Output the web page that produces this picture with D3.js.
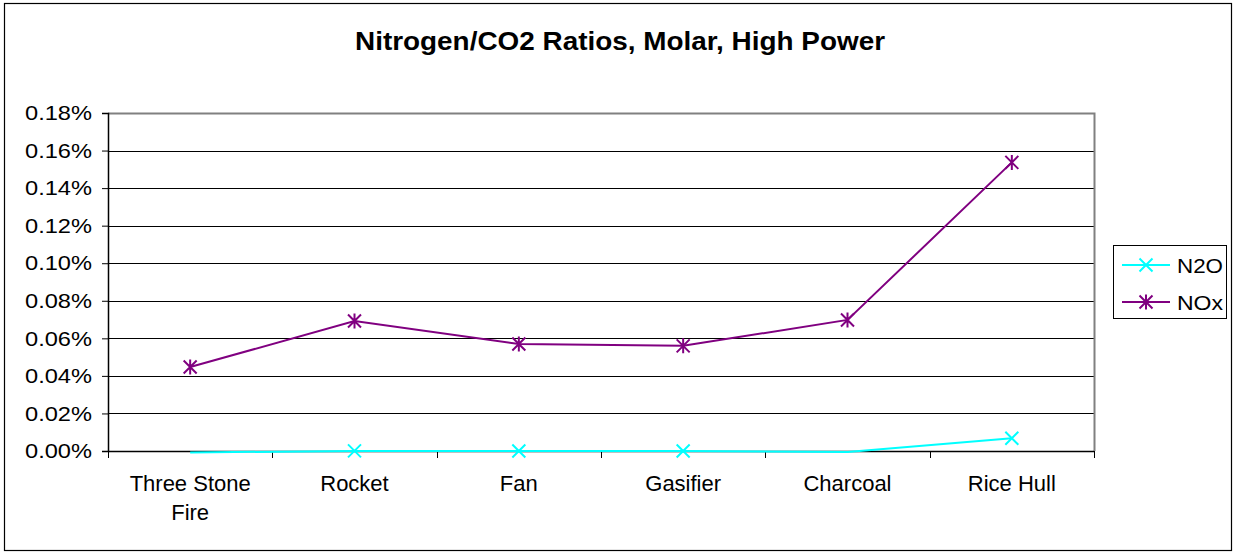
<!DOCTYPE html>
<html>
<head>
<meta charset="utf-8">
<script src="https://cdn.jsdelivr.net/npm/d3@7"></script>
<style>
  html, body { margin: 0; padding: 0; background: #fff; }
  svg { display: block; font-family: Arial, "Liberation Sans", sans-serif; }
</style>
</head>
<body>
<svg id="chart" width="1233" height="553"></svg>
<script>
const titleText = "Nitrogen/CO2 Ratios, Molar, High Power";
const categories = ["Three Stone Fire", "Rocket", "Fan", "Gasifier", "Charcoal", "Rice Hull"];
const seriesNames = ["N2O", "NOx"];
const n2oValues = [-0.000008, 0.0000005, 0.0000003, 0.0000002, -0.000005, 0.000068];
const noxValues = [0.000447, 0.000692, 0.000570, 0.000560, 0.000698, 0.001537];
const yTicks = [0, 0.0002, 0.0004, 0.0006, 0.0008, 0.0010, 0.0012, 0.0014, 0.0016, 0.0018];
const seriesColors = ["#00FFFF", "#800080"];

const svg = d3.select("#chart");
const plot = { left: 108, right: 1094, top: 113, bottom: 451 };

// outer border
svg.append("rect").attr("x", 4.5).attr("y", 3.5).attr("width", 1227).attr("height", 547)
  .attr("fill", "#fff").attr("stroke", "#000").attr("stroke-width", 1.2);

// title
svg.append("text").attr("x", 620).attr("y", 50).attr("text-anchor", "middle")
  .attr("font-size", 25).attr("font-weight", "bold").attr("fill", "#000")
  .attr("textLength", 530).attr("lengthAdjust", "spacingAndGlyphs")
  .text(titleText);

const x = d3.scaleBand().domain(categories).range([plot.left, plot.right]).padding(0);
const y = d3.scaleLinear().domain([0, 0.0018]).range([plot.bottom, plot.top]);

// gridlines
svg.append("g").selectAll("line").data(yTicks.filter(t => t > 0 && t < 0.0018)).join("line")
  .attr("x1", plot.left).attr("x2", plot.right)
  .attr("y1", d => Math.round(y(d)) + 0.5).attr("y2", d => Math.round(y(d)) + 0.5)
  .attr("stroke", "#000").attr("stroke-width", 1);

// plot border (top + right) gray
svg.append("path")
  .attr("d", `M${plot.left},${plot.top + 0.5} H${plot.right + 0.5} V${plot.bottom}`)
  .attr("fill", "none").attr("stroke", "#808080").attr("stroke-width", 2);

// y axis
const yAxis = d3.axisLeft(y).tickValues(yTicks).tickSize(6).tickPadding(10)
  .tickFormat(d => (d * 100).toFixed(2) + "%");
const gy = svg.append("g").attr("transform", `translate(${plot.left},0)`).call(yAxis);
gy.select(".domain").attr("stroke", "#000").attr("stroke-width", 1.5);
gy.selectAll(".tick line").attr("stroke", "#000");
gy.selectAll(".tick text").attr("font-size", 21).attr("fill", "#000")
  .attr("font-family", "Arial, 'Liberation Sans', sans-serif")
  .attr("textLength", 67).attr("lengthAdjust", "spacingAndGlyphs");

// x axis
const gx = svg.append("g").attr("transform", `translate(0,${plot.bottom})`);
gx.append("line").attr("x1", plot.left).attr("x2", plot.right).attr("y1", 0.5).attr("y2", 0.5)
  .attr("stroke", "#000").attr("stroke-width", 1.5);
const boundaries = categories.map(c => x(c)).concat([x(categories[categories.length - 1]) + x.bandwidth()]);
gx.selectAll("line.tk").data(boundaries).join("line").attr("class", "tk")
  .attr("x1", d => Math.round(d) + 0.5).attr("x2", d => Math.round(d) + 0.5)
  .attr("y1", 0).attr("y2", 7).attr("stroke", "#000");
const labelLines = { "Three Stone Fire": ["Three Stone", "Fire"] };
categories.forEach(c => {
  const lines = labelLines[c] || [c];
  const t = gx.append("text").attr("text-anchor", "middle").attr("font-size", 22).attr("fill", "#000")
    .attr("x", x(c) + x.bandwidth() / 2);
  lines.forEach((ln, i) => {
    t.append("tspan").attr("x", x(c) + x.bandwidth() / 2).attr("y", 40 + i * 29).text(ln);
  });
});

// lines
const line = d3.line().x((d, i) => x(categories[i]) + x.bandwidth() / 2).y(d => y(d));
const seriesData = [n2oValues, noxValues];
seriesData.forEach((vals, si) => {
  svg.append("path").datum(vals).attr("d", line).attr("fill", "none")
    .attr("stroke", seriesColors[si]).attr("stroke-width", 2);
});

function drawMarker(g, cx, cy, type, color) {
  const s = 6.5;
  g.append("path")
    .attr("d", `M${cx - s},${cy - s}L${cx + s},${cy + s}M${cx - s},${cy + s}L${cx + s},${cy - s}` +
      (type === "star" ? `M${cx},${cy - s - 1}L${cx},${cy + s + 1}` : ""))
    .attr("stroke", color).attr("stroke-width", 2).attr("fill", "none");
}
const mg = svg.append("g");
seriesData.forEach((vals, si) => {
  vals.forEach((v, i) => {
    if (v < 0) return; // clipped by axis minimum, like the original
    drawMarker(mg, x(categories[i]) + x.bandwidth() / 2, y(v), si === 0 ? "x" : "star", seriesColors[si]);
  });
});

// legend
const lg = svg.append("g");
lg.append("rect").attr("x", 1113.5).attr("y", 245.5).attr("width", 113).attr("height", 73)
  .attr("fill", "#fff").attr("stroke", "#000").attr("stroke-width", 1);
seriesNames.forEach((name, i) => {
  const ly = 265 + i * 37;
  lg.append("line").attr("x1", 1122).attr("x2", 1170).attr("y1", ly).attr("y2", ly)
    .attr("stroke", seriesColors[i]).attr("stroke-width", 2);
  drawMarker(lg, 1146, ly, i === 0 ? "x" : "star", seriesColors[i]);
  lg.append("text").attr("x", 1177).attr("y", ly + 7.5).attr("font-size", 21).attr("fill", "#000")
    .attr("textLength", 46).attr("lengthAdjust", "spacingAndGlyphs").text(name);
});
</script>
</body>
</html>
